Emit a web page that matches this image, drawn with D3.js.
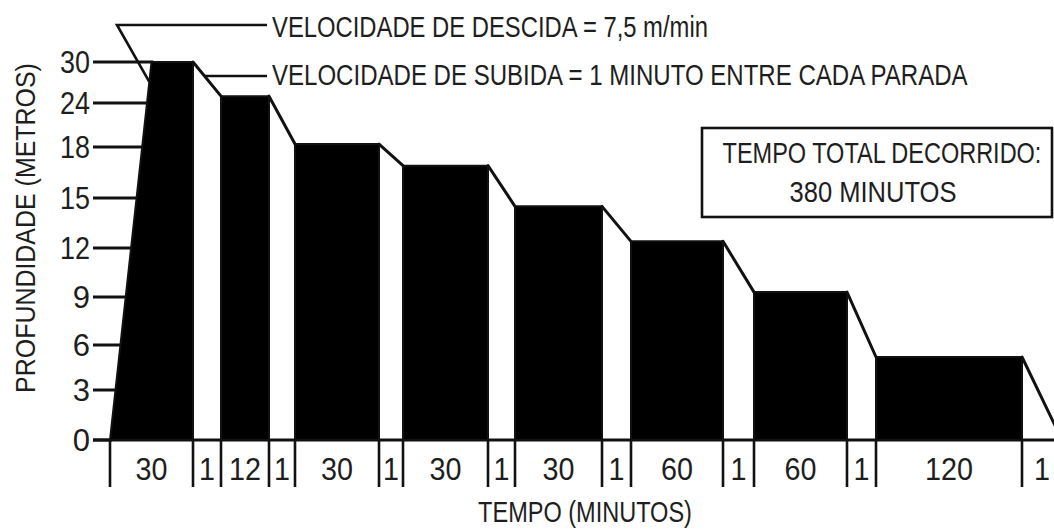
<!DOCTYPE html>
<html><head><meta charset="utf-8">
<script src="https://cdn.jsdelivr.net/npm/d3@7"></script>
<style>html,body{margin:0;padding:0;background:#fff;overflow:hidden}</style>
</head><body><svg id="c" width="1054" height="531"></svg>
<script>
// ---------- data ----------
const segmentMinutes = [30, 1, 12, 1, 30, 1, 30, 1, 30, 1, 60, 1, 60, 1, 120, 1];
const segmentLabels  = ["30","1","12","1","30","1","30","1","30","1","60","1","60","1","120","1"];
const stopDepths     = [30, 25, 18.4, 16.9, 14.5, 12.4, 9.3, 5.2];   // depth of each flat segment as drawn
const depthTicks     = [0, 3, 6, 9, 12, 15, 18, 24, 30];
const depthTickLabels = ["0","3","6","9","12","15","18","24","30"];
const descentMinutes = 15;       // where the descent reaches the bottom, as drawn
const descentPointerDepth = 27.1;
const noteDescent = "VELOCIDADE DE DESCIDA = 7,5 m/min";
const noteAscent  = "VELOCIDADE DE SUBIDA = 1 MINUTO ENTRE CADA PARADA";
const totalLines  = ["TEMPO TOTAL DECORRIDO:", "380 MINUTOS"];
const xTitle = "TEMPO (MINUTOS)";
const yTitle = "PROFUNDIDADE (METROS)";

// ---------- layout ----------
const svg = d3.select("#c");
const INK = "#111";
const TXT = "#1e1e1e";
const FONT = "'Liberation Sans',Arial,sans-serif";

const cum = [0];
segmentMinutes.forEach(m => cum.push(cum[cum.length - 1] + m));

// schematic (non-proportional) time axis: piecewise scale through segment boundaries
const x = d3.scaleLinear().domain(cum)
  .range([110,193,221,269,295,379,403,488,515,602,631,723,754,847,876,1022,1062]);
// schematic depth axis
const y = d3.scaleLinear().domain(depthTicks)
  .range([440,390,345,297,248,198,147,103,62]);

const y0 = y(0);
const axisLeft = 93;
const tickBottom = 487;

// condensed text: draw at natural size, then squeeze horizontally to a width
function fitText(tx, ty, str, size, width, anchor, rot) {
  const t = svg.append("text").attr("x", 0).attr("y", 0)
    .attr("text-anchor", anchor).attr("font-family", FONT)
    .attr("font-size", size).attr("fill", TXT).text(str);
  const len = t.node().getComputedTextLength();
  const s = Math.min(1, width / len);
  t.attr("transform", `translate(${tx},${ty})${rot ? " rotate(" + rot + ")" : ""} scale(${s},1)`);
  return t;
}

// descent edge helper
const xd0 = x(0), xd1 = x(descentMinutes), yTop = y(stopDepths[0]);
const descentX = yy => xd0 + (xd1 - xd0) * (y0 - yy) / (y0 - yTop);

// y tick lines (run up to the descent edge)
svg.append("g").selectAll("line").data(depthTicks).join("line")
  .attr("x1", axisLeft).attr("x2", d => descentX(y(d)) + 2)
  .attr("y1", d => y(d)).attr("y2", d => y(d))
  .attr("stroke", INK).attr("stroke-width", 3);

// y tick labels
depthTicks.forEach((d, i) => fitText(90, y(d) + 11, depthTickLabels[i], 31, 30, "end"));

// baseline
svg.append("line").attr("x1", axisLeft).attr("x2", 1054)
  .attr("y1", y0).attr("y2", y0).attr("stroke", INK).attr("stroke-width", 3);

// bars (flat segments)
const stops = stopDepths.map((d, i) => ({ depth: d, t0: cum[2 * i], t1: cum[2 * i + 1] }));
const gBars = svg.append("g");
stops.forEach((s, i) => {
  const pts = i === 0
    ? [[x(s.t0), y0], [x(descentMinutes), y(s.depth)], [x(s.t1), y(s.depth)], [x(s.t1), y0]]
    : [[x(s.t0), y0], [x(s.t0), y(s.depth)], [x(s.t1), y(s.depth)], [x(s.t1), y0]];
  gBars.append("path").attr("d", d3.line()(pts) + "Z")
    .attr("fill", "#000").attr("stroke", INK).attr("stroke-width", 2).attr("stroke-linejoin", "round");
});

// ascent slopes
const slopes = stops.map((s, i) => {
  const next = stops[i + 1];
  return { xa: x(s.t1), ya: y(s.depth), xb: x(cum[2 * i + 2]), yb: next ? y(next.depth) : y0 };
});
svg.append("g").selectAll("line").data(slopes).join("line")
  .attr("x1", d => d.xa).attr("y1", d => d.ya).attr("x2", d => d.xb).attr("y2", d => d.yb)
  .attr("stroke", INK).attr("stroke-width", 3).attr("stroke-linecap", "round");
svg.append("g").selectAll("line").data(slopes).join("line")
  .attr("x1", d => d.xb).attr("y1", d => d.yb).attr("x2", d => d.xb).attr("y2", y0)
  .attr("stroke", INK).attr("stroke-width", 2);

// time dividers
svg.append("g").selectAll("line").data(cum.slice(0, cum.length - 1)).join("line")
  .attr("x1", d => x(d)).attr("x2", d => x(d))
  .attr("y1", y0).attr("y2", tickBottom)
  .attr("stroke", INK).attr("stroke-width", 2.6);

// segment labels
segmentMinutes.forEach((d, i) => {
  const cx = (x(cum[i]) + x(cum[i + 1])) / 2;
  const lbl = segmentLabels[i];
  fitText(cx, 480, lbl, 32, lbl.length * 16, "middle");
});

// axis titles
fitText(585, 522, xTitle, 29, 214, "middle");
fitText(35, 228, yTitle, 27, 330, "middle", -90);

// annotation leaders
const pyD = y(descentPointerDepth);
svg.append("path")
  .attr("d", `M267,25 H117 L${descentX(pyD)},${pyD}`)
  .attr("fill", "none").attr("stroke", INK).attr("stroke-width", 2.6);
const s0 = slopes[0], ly = 76;
const lx = s0.xa + (s0.xb - s0.xa) * (ly - s0.ya) / (s0.yb - s0.ya);
svg.append("line").attr("x1", lx).attr("x2", 267).attr("y1", ly).attr("y2", ly)
  .attr("stroke", INK).attr("stroke-width", 2.6);

fitText(272, 37, noteDescent, 30, 436, "start");
fitText(272, 85, noteAscent, 30, 696, "start");

// total time box
svg.append("rect").attr("x", 702).attr("y", 128).attr("width", 350).attr("height", 89)
  .attr("fill", "none").attr("stroke", INK).attr("stroke-width", 2.6);
fitText(882, 163, totalLines[0], 29, 319, "middle");
fitText(873, 202, totalLines[1], 29, 167, "middle");
</script>
</body></html>
